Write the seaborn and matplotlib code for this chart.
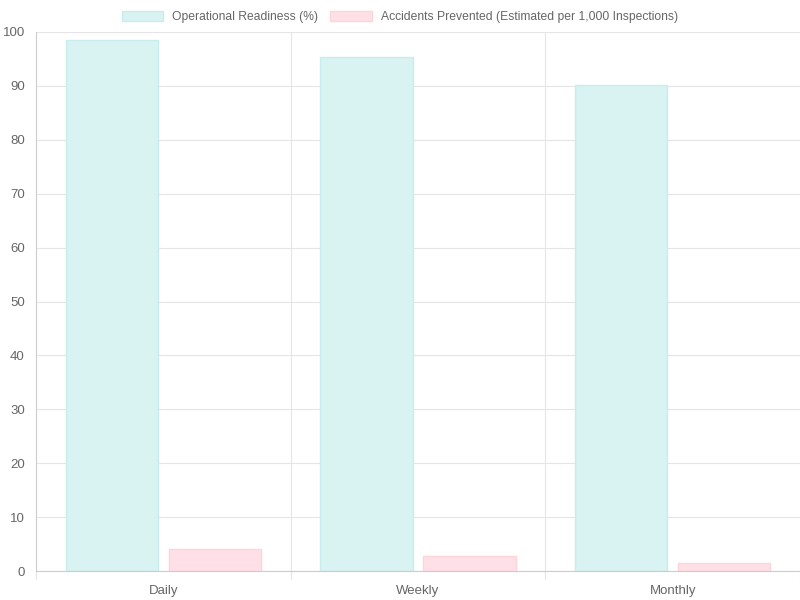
import pandas as pd
import seaborn as sns
import matplotlib.pyplot as plt

frequencies = ["Daily", "Weekly", "Monthly"]
readiness = [98.5, 95.3, 90.1]
accidents = [4.2, 2.8, 1.5]
series_names = ["Operational Readiness (%)",
                "Accidents Prevented (Estimated per 1,000 Inspections)"]

df = pd.DataFrame({
    "Frequency": frequencies * 2,
    "Value": readiness + accidents,
    "Series": [series_names[0]] * 3 + [series_names[1]] * 3,
})

sns.set_style("white")
plt.rcParams['font.family'] = ['Liberation Sans', 'DejaVu Sans']

fig = plt.figure(figsize=(8, 6), dpi=100)
ax = fig.add_axes([0.045, 0.048, 0.955, 0.899])

fills = ["#d9f2f2", "#ffe0e6"]
edges = ["#c9ecec", "#ffd3dc"]
sns.barplot(data=df, x="Frequency", y="Value", hue="Series", palette=fills,
            width=0.81, gap=0.105, ax=ax, legend=False, saturation=1)
for i, cont in enumerate(ax.containers):
    for p in cont:
        p.set_edgecolor(edges[i])
        p.set_linewidth(1)

ax.set_xlim(-0.5, 2.5)
ax.set_ylim(0, 100)
ax.set_yticks(range(0, 101, 10))
ax.set_xlabel("")
ax.set_ylabel("")
ax.grid(axis="y", color="#e5e5e5", linewidth=0.8)
for xv in [0.5, 1.5]:
    ax.axvline(xv, color="#e5e5e5", linewidth=0.8, zorder=0)
ax.set_axisbelow(True)
for side in ["top", "right"]:
    ax.spines[side].set_visible(False)
for side in ["left", "bottom"]:
    ax.spines[side].set_color("#cccccc")
ax.tick_params(axis="y", colors="#666666", labelsize=9.5, length=0, pad=8)
ax.tick_params(axis="x", colors="#666666", labelsize=9.5, length=0, pad=10)
for xv in [-0.5, 0.5, 1.5, 2.5]:
    ax.plot([xv, xv], [0, -1.5], color="#e5e5e5", linewidth=0.8, clip_on=False)

handles = [plt.Rectangle((0, 0), 1, 1, facecolor=fills[i], edgecolor=edges[i])
           for i in range(2)]
fig.legend(handles, series_names, loc="upper center", bbox_to_anchor=(0.5, 1.0),
           ncol=2, frameon=False, fontsize=8.7, labelcolor="#666666",
           handlelength=3.4, handleheight=0.9, columnspacing=1.0)

fig.savefig("out.png", dpi=100)
